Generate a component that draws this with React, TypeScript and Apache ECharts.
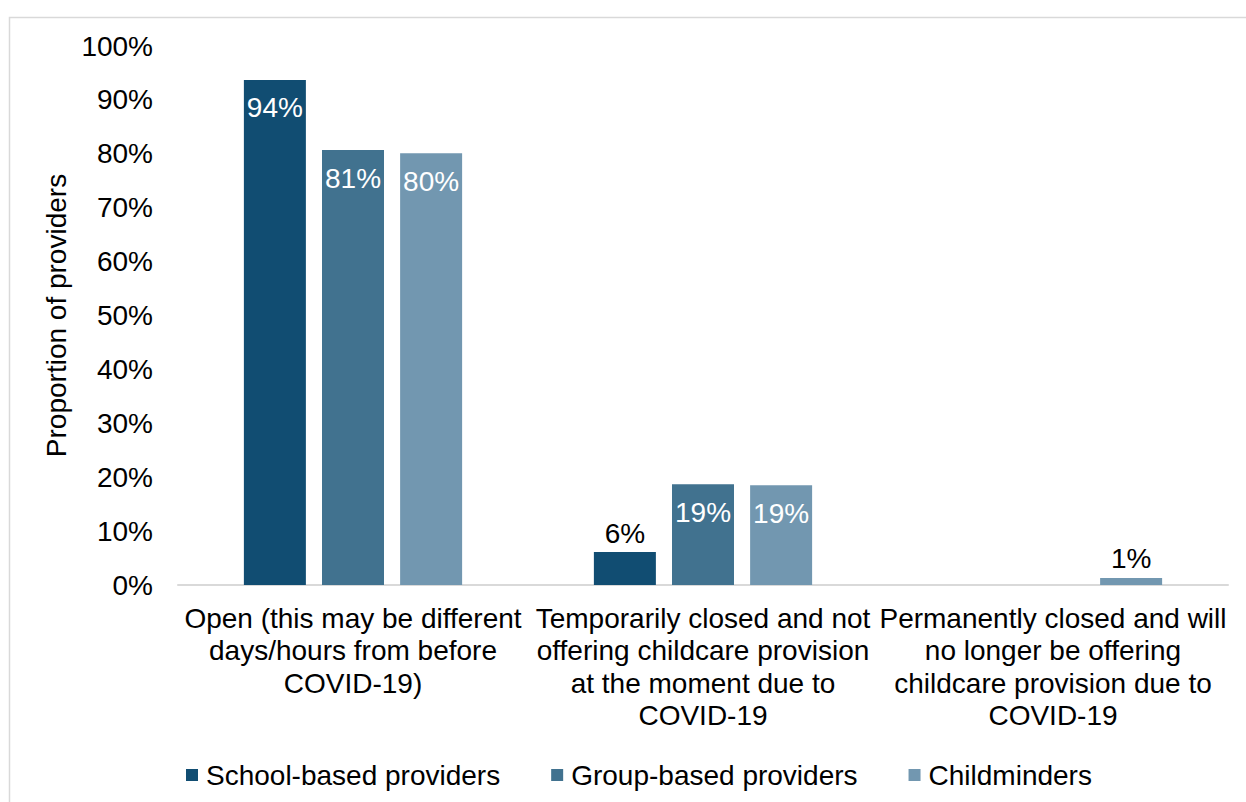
import React, { useEffect, useRef } from "react";
import * as echarts from "echarts";

const categories = [
  "Open (this may be different\ndays/hours from before\nCOVID-19)",
  "Temporarily closed and not\noffering childcare provision\nat the moment due to\nCOVID-19",
  "Permanently closed and will\nno longer be offering\nchildcare provision due to\nCOVID-19",
];
const seriesNames = ["School-based providers", "Group-based providers", "Childminders"];
const schoolBased = [93.7, 6.1, 0];
const groupBased = [80.7, 18.7, 0];
const childminders = [80.1, 18.5, 1.3];
const colors = ["#114D72", "#41728F", "#7297B0"];
const yTicks = [0, 10, 20, 30, 40, 50, 60, 70, 80, 90, 100];

const FONT = "'Liberation Sans', Arial, sans-serif";
const FS = 28;

function makeData(vals: number[]) {
  return vals.map((v) => {
    if (v === 0) return { value: null as any };
    const big = v > 10;
    return {
      value: v,
      label: big
        ? { position: "insideTop", color: "#ffffff", distance: 14 }
        : { position: "top", color: "#000000", distance: 5 },
    };
  });
}

export default function App() {
  const ref = useRef<HTMLDivElement>(null);
  useEffect(() => {
    if (!ref.current) return;
    const chart = echarts.init(ref.current, null, { renderer: "svg" });
    const all = [schoolBased, groupBased, childminders];
    chart.setOption({
      animation: false,
      backgroundColor: "#ffffff",
      graphic: [
        {
          type: "rect",
          shape: { x: 9.5, y: 17.5, width: 1400, height: 1000 },
          style: { fill: "none", stroke: "#d9d9d9", lineWidth: 1.5 },
          silent: true,
          z: -1,
        },
      ],
      grid: { left: 178, right: 18, top: 46, bottom: 217, containLabel: false },
      legend: {
        left: 181,
        top: 756,
        itemWidth: 12,
        itemHeight: 12,
        itemGap: 51,
        icon: "rect",
        textStyle: { fontFamily: FONT, fontSize: FS, color: "#000", padding: [0, 0, 0, 3] },
        data: seriesNames,
      },
      xAxis: {
        type: "category",
        data: categories,
        axisLine: { lineStyle: { color: "#d9d9d9", width: 2 } },
        axisTick: { show: false },
        axisLabel: {
          interval: 0,
          fontFamily: FONT,
          fontSize: FS,
          color: "#000",
          lineHeight: 32.5,
          margin: 17,
          align: "center",
        },
      },
      yAxis: {
        type: "value",
        min: 0,
        max: 100,
        interval: 10,
        name: "Proportion of providers",
        nameLocation: "middle",
        nameGap: 104,
        nameRotate: 90,
        nameTextStyle: { fontFamily: FONT, fontSize: FS, color: "#000" },
        splitLine: { show: false },
        axisLine: { show: false },
        axisTick: { show: false },
        axisLabel: {
          fontFamily: FONT,
          fontSize: FS,
          color: "#000",
          margin: 25,
          formatter: (v: number) => (yTicks.includes(v) ? `${v}%` : ""),
        },
      },
      series: all.map((vals, i) => ({
        name: seriesNames[i],
        type: "bar",
        barWidth: 62,
        barGap: "26%",
        itemStyle: { color: colors[i] },
        label: {
          show: true,
          fontFamily: FONT,
          fontSize: FS,
          formatter: (p: any) => `${Math.round(p.value)}%`,
        },
        data: makeData(vals),
      })),
    });
    return () => chart.dispose();
  }, []);
  return (
    <div
      ref={ref}
      style={{ position: "absolute", left: 0, top: 0, width: 1246, height: 802 }}
    />
  );
}
